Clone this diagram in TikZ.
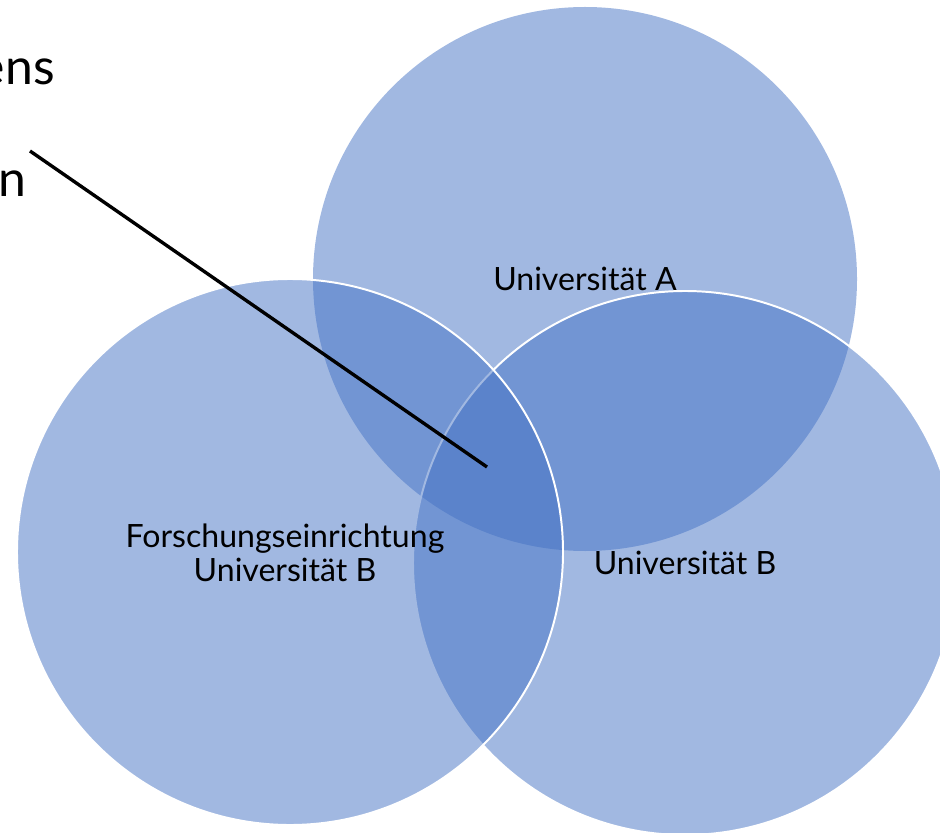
\documentclass[tikz,border=0pt]{standalone}
\usepackage{fontspec}
\setmainfont{Lato}
\usetikzlibrary{positioning}
\definecolor{vennblau}{HTML}{4472C4}

\begin{document}
\begin{tikzpicture}[x=0.025cm, y=-0.025cm,
	kreis/.style = {fill=vennblau, fill opacity=0.5, draw=white, line width=1.4pt},
	beschriftung/.style = {align=center, inner sep=0pt, font=\fontsize{22.8}{24.2}\selectfont},
	rest/.style = {anchor=base east, inner sep=0pt, font=\fontsize{35.5}{40}\selectfont}]
	\useasboundingbox (0,0) rectangle (940,833); % Rahmen
	
	\path[kreis, draw=none] (585,279) circle [radius=272]; % Universitaet A
	\path[kreis] (685,563) circle [radius=272]; % Universitaet B
	\path[kreis] (290,552) circle [radius=273]; % Forschungseinrichtung
	
	\node[beschriftung] (uniA) at (585,279) {Universität A};
	\node[beschriftung] (uniB) at (685,563) {Universität B};
	\node[beschriftung] (forschung) at (285,553) {Forschungseinrichtung\\Universität B};
	
	\node[rest] (zeile1) at (55,85) {ens};
	\node[rest] (zeile2) at (27,197) {n};
	
	\coordinate (start) at (30,151);
	\coordinate (mitte) at (487,467);
	\draw[line width=2.4pt] (start) -- (mitte);
\end{tikzpicture}
\end{document}
